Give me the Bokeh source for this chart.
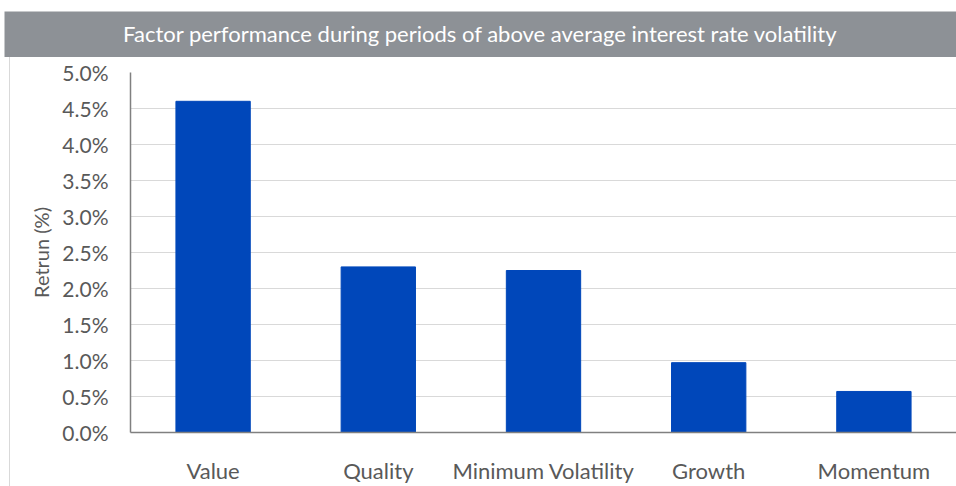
from bokeh.plotting import figure
from bokeh.layouts import column, row
from bokeh.models import Spacer, FixedTicker, PrintfTickFormatter, Range1d
from bokeh.core.properties import value
from bokeh.embed import file_html
from bokeh.resources import INLINE

# Factor returns (%) during periods of above average interest rate volatility
factors = ["Value", "Quality", "Minimum Volatility", "Growth", "Momentum"]
returns_pct = [4.6, 2.3, 2.25, 0.97, 0.57]
y_ticks = [0.0, 0.5, 1.0, 1.5, 2.0, 2.5, 3.0, 3.5, 4.0, 4.5, 5.0]

title_text = "Factor performance during periods of above average interest rate volatility"
y_label_text = "Retrun (%)"
FONT = "Lato"
BAR_BLUE = "#0047BA"
TITLE_GREY = "#8D9196"
TEXT_GREY = "#595959"

# Grey title banner
banner = figure(width=956, height=57, x_range=Range1d(0, 1), y_range=Range1d(0, 1),
                output_backend="svg", toolbar_location=None,
                min_border_top=11, min_border_left=4, min_border_right=0, min_border_bottom=0)
banner.axis.visible = False
banner.grid.visible = False
banner.outline_line_color = None
banner.background_fill_color = TITLE_GREY
banner.text(x=[0.5], y=[0.52], text=[title_text], text_align="center", text_baseline="middle",
            text_color="white", text_font=value(FONT), text_font_size="22px")

# Main bar chart
p = figure(width=946, height=429, x_range=factors, y_range=Range1d(0, 5.0),
           output_backend="svg", toolbar_location=None,
           min_border_top=15, min_border_bottom=49, min_border_left=120, min_border_right=0)
p.vbar(x=factors, top=returns_pct, width=0.45, color=BAR_BLUE)

p.outline_line_color = None
p.xgrid.visible = False
p.ygrid.grid_line_color = "#D9D9D9"
p.ygrid.grid_line_width = 1

p.yaxis.ticker = FixedTicker(ticks=y_ticks)
p.yaxis.formatter = PrintfTickFormatter(format="%.1f%%")
p.yaxis.axis_label = y_label_text
p.yaxis.axis_label_text_font = FONT
p.yaxis.axis_label_text_font_style = "normal"
p.yaxis.axis_label_text_font_size = "20px"
p.yaxis.axis_label_text_color = TEXT_GREY
p.yaxis.axis_label_standoff = 6

for ax in (p.xaxis, p.yaxis):
    ax.major_label_text_font = FONT
    ax.major_label_text_color = TEXT_GREY
    ax.major_tick_line_color = None
    ax.minor_tick_line_color = None
    ax.axis_line_color = "#808080"
    ax.axis_line_width = 1.5

p.yaxis.major_label_text_font_size = "21px"
p.xaxis.major_label_text_font_size = "22px"
p.yaxis.major_label_standoff = 16
p.xaxis.major_label_standoff = 18

edge = Spacer(width=10, height=429, styles={"border-right": "1px solid #D9D9D9", "box-sizing": "border-box"})

layout = column(banner, row(edge, p))

open("out.html", "w").write(file_html(layout, INLINE))
